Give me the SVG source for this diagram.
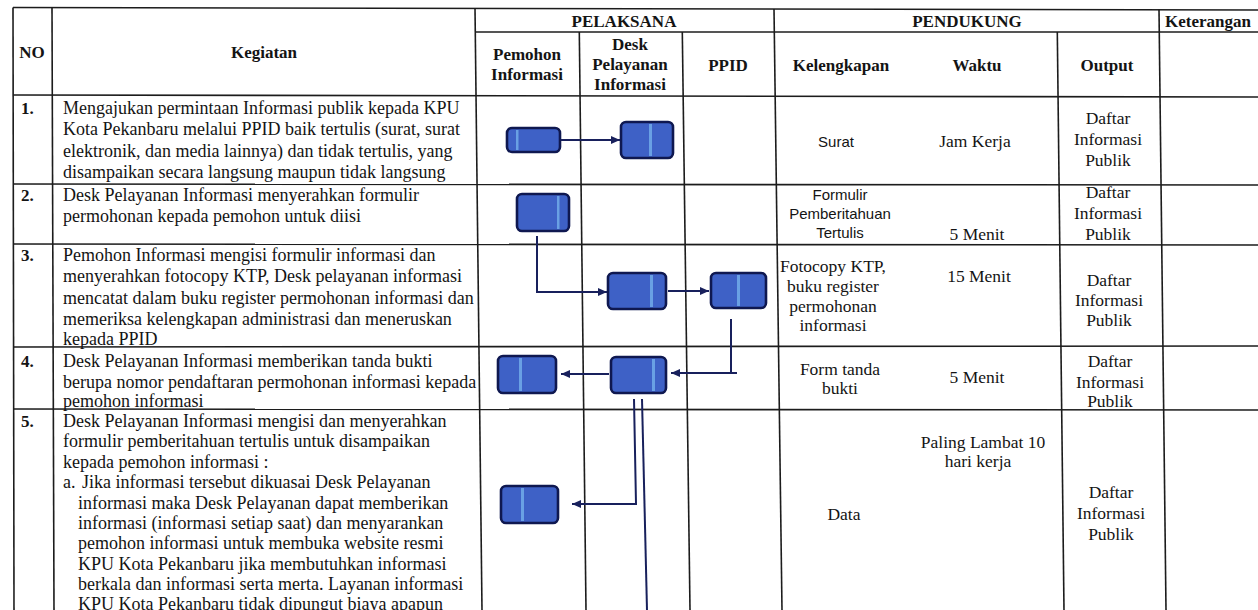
<svg xmlns="http://www.w3.org/2000/svg" width="1258" height="610" viewBox="0 0 1258 610">
<style>
.grid{stroke:#1c1c1c;stroke-width:1.6;fill:none}
.hd{font-family:"Liberation Serif","Times New Roman",serif;font-weight:bold;font-size:17px;fill:#141414}
.tx{font-family:"Liberation Serif","Times New Roman",serif;font-size:18px;fill:#141414}
.sm{font-family:"Liberation Serif","Times New Roman",serif;font-size:17.5px;fill:#141414;text-anchor:middle}
.sans{font-family:"Liberation Sans",Arial,sans-serif;font-size:15px;fill:#141414;text-anchor:middle}
.mid{text-anchor:middle}
.box{fill:#3e61c6;stroke:#0f1850;stroke-width:2.6}
.stripe{fill:#78b6ee;opacity:0.75}
.conn{stroke:#18205c;stroke-width:2;fill:none}
</style>
<defs>
<marker id="arr" markerUnits="userSpaceOnUse" markerWidth="9" markerHeight="8" refX="9" refY="4" orient="auto">
<path d="M0,0 L9,4 L0,8 z" fill="#18205c"/>
</marker>
</defs>
<rect width="1258" height="610" fill="#ffffff"/>
<g id="table" class="grid">
<line x1="13" y1="7.5" x2="1258" y2="10"/>
<line x1="475" y1="32" x2="1258" y2="32"/>
<line x1="13" y1="95" x2="1258" y2="97"/>
<line x1="13" y1="184" x2="1258" y2="185"/>
<line x1="13" y1="244" x2="1258" y2="245"/>
<line x1="13" y1="347" x2="1258" y2="346"/>
<line x1="13" y1="409" x2="1258" y2="410"/>
<line x1="13" y1="7.5" x2="14" y2="610"/>
<line x1="52" y1="7.5" x2="54" y2="610"/>
<line x1="475" y1="8" x2="482" y2="610"/>
<line x1="579.3" y1="32" x2="586" y2="610"/>
<line x1="682.3" y1="32" x2="690" y2="610"/>
<line x1="774" y1="9" x2="782" y2="610"/>
<line x1="1057.3" y1="32" x2="1064" y2="610"/>
<line x1="1159" y1="9.5" x2="1166" y2="610"/>
</g>
<g id="header">
<text class="hd mid" x="32" y="58">NO</text>
<text class="hd mid" x="264" y="58">Kegiatan</text>
<text class="hd mid" x="624" y="27">PELAKSANA</text>
<text class="hd mid" x="967" y="27">PENDUKUNG</text>
<text class="hd mid" x="1208" y="27">Keterangan</text>
<text class="hd mid" x="527" y="60">Pemohon</text>
<text class="hd mid" x="527" y="80">Informasi</text>
<text class="hd mid" x="630" y="50">Desk</text>
<text class="hd mid" x="630" y="70">Pelayanan</text>
<text class="hd mid" x="630" y="90">Informasi</text>
<text class="hd mid" x="728" y="71">PPID</text>
<text class="hd mid" x="841" y="71">Kelengkapan</text>
<text class="hd mid" x="977" y="71">Waktu</text>
<text class="hd mid" x="1107" y="71">Output</text>
</g>
<g id="row1">
<text class="hd" x="21" y="113.5">1.</text>
<text class="tx" x="63" y="113.5">Mengajukan permintaan Informasi publik kepada KPU</text>
<text class="tx" x="63" y="135">Kota Pekanbaru melalui PPID baik tertulis (surat, surat</text>
<text class="tx" x="63" y="156.5">elektronik, dan media lainnya) dan tidak tertulis, yang</text>
<text class="tx" x="63" y="178">disampaikan secara langsung maupun tidak langsung</text>
<text class="sans" x="836" y="147">Surat</text>
<text class="sm" x="975" y="147">Jam Kerja</text>
<text class="sm" x="1108" y="124">Daftar</text>
<text class="sm" x="1108" y="145">Informasi</text>
<text class="sm" x="1108" y="166">Publik</text>
</g>
<g id="row2">
<text class="hd" x="21" y="201">2.</text>
<text class="tx" x="63" y="201">Desk Pelayanan Informasi menyerahkan formulir</text>
<text class="tx" x="63" y="222">permohonan kepada pemohon untuk diisi</text>
<text class="sans" x="840" y="200">Formulir</text>
<text class="sans" x="840" y="219">Pemberitahuan</text>
<text class="sans" x="840" y="238">Tertulis</text>
<text class="sm" x="977" y="240">5 Menit</text>
<text class="sm" x="1108" y="198">Daftar</text>
<text class="sm" x="1108" y="219">Informasi</text>
<text class="sm" x="1108" y="240">Publik</text>
</g>
<g id="row3">
<text class="hd" x="21" y="261">3.</text>
<text class="tx" x="63" y="261">Pemohon Informasi mengisi formulir informasi dan</text>
<text class="tx" x="63" y="282.3">menyerahkan fotocopy KTP, Desk pelayanan informasi</text>
<text class="tx" x="63" y="303.6">mencatat dalam buku register permohonan informasi dan</text>
<text class="tx" x="63" y="325">memeriksa kelengkapan administrasi dan meneruskan</text>
<text class="tx" x="63" y="345">kepada PPID</text>
<text class="sm" x="833" y="272">Fotocopy KTP,</text>
<text class="sm" x="833" y="292">buku register</text>
<text class="sm" x="833" y="312">permohonan</text>
<text class="sm" x="833" y="331">informasi</text>
<text class="sm" x="979" y="282">15 Menit</text>
<text class="sm" x="1109" y="286">Daftar</text>
<text class="sm" x="1109" y="306">Informasi</text>
<text class="sm" x="1109" y="326">Publik</text>
</g>
<g id="row4">
<text class="hd" x="21" y="367">4.</text>
<text class="tx" x="63" y="367">Desk Pelayanan Informasi memberikan tanda bukti</text>
<text class="tx" x="63" y="387.5">berupa nomor pendaftaran permohonan informasi kepada</text>
<text class="tx" x="63" y="407">pemohon informasi</text>
<text class="sm" x="840" y="375">Form tanda</text>
<text class="sm" x="840" y="394">bukti</text>
<text class="sm" x="977" y="383">5 Menit</text>
<text class="sm" x="1110" y="367">Daftar</text>
<text class="sm" x="1110" y="388">Informasi</text>
<text class="sm" x="1110" y="407">Publik</text>
</g>
<g id="row5">
<text class="hd" x="21" y="427">5.</text>
<text class="tx" x="63" y="427">Desk Pelayanan Informasi mengisi dan menyerahkan</text>
<text class="tx" x="63" y="447.4">formulir pemberitahuan tertulis untuk disampaikan</text>
<text class="tx" x="63" y="467.8">kepada pemohon informasi :</text>
<text class="tx" x="63" y="488.2">a.</text>
<text class="tx" x="82" y="488.2">Jika informasi tersebut dikuasai Desk Pelayanan</text>
<text class="tx" x="78" y="508.6">informasi maka Desk Pelayanan dapat memberikan</text>
<text class="tx" x="78" y="529">informasi (informasi setiap saat) dan menyarankan</text>
<text class="tx" x="78" y="549.4">pemohon informasi untuk membuka website resmi</text>
<text class="tx" x="78" y="569.8">KPU Kota Pekanbaru jika membutuhkan informasi</text>
<text class="tx" x="78" y="590.2">berkala dan informasi serta merta. Layanan informasi</text>
<text class="tx" x="78" y="610">KPU Kota Pekanbaru tidak dipungut biaya apapun</text>
<text class="sm" x="983" y="448">Paling Lambat 10</text>
<text class="sm" x="978" y="467">hari kerja</text>
<text class="sm" x="844" y="520">Data</text>
<text class="sm" x="1111" y="498">Daftar</text>
<text class="sm" x="1111" y="519">Informasi</text>
<text class="sm" x="1111" y="540">Publik</text>
</g>
<g id="node-r1-pemohon"><rect class="box" x="507" y="128" width="53" height="24" rx="5"/><rect class="stripe" x="516" y="130" width="2.5" height="20"/></g>
<g id="node-r1-desk"><rect class="box" x="621" y="122" width="52" height="36" rx="5"/><rect class="stripe" x="649" y="124" width="3" height="32"/></g>
<g id="node-r2-pemohon"><rect class="box" x="517" y="194" width="52" height="37" rx="5"/><rect class="stripe" x="557" y="196" width="2.5" height="33"/></g>
<g id="node-r3-desk"><rect class="box" x="608" y="273" width="58" height="36" rx="5"/><rect class="stripe" x="650" y="275" width="3" height="32"/></g>
<g id="node-r3-ppid"><rect class="box" x="711" y="273" width="55" height="35" rx="5"/><rect class="stripe" x="737" y="275" width="3" height="31"/></g>
<g id="node-r4-pemohon"><rect class="box" x="498" y="356" width="58" height="37" rx="5"/><rect class="stripe" x="519" y="358" width="3" height="33"/></g>
<g id="node-r4-desk"><rect class="box" x="611" y="357" width="55" height="36" rx="5"/><rect class="stripe" x="652" y="359" width="3" height="32"/></g>
<g id="node-r5-pemohon"><rect class="box" x="501" y="486" width="57" height="37" rx="5"/><rect class="stripe" x="521" y="488" width="3" height="33"/></g>
<g id="connectors" class="conn">
<path d="M561,140 H620" marker-end="url(#arr)"/>
<path d="M537,236 V292 H607" marker-end="url(#arr)"/>
<path d="M668,291 H709" marker-end="url(#arr)"/>
<path d="M731,319 V373"/>
<path d="M737,373 H671" marker-end="url(#arr)"/>
<path d="M609,374 H561" marker-end="url(#arr)"/>
<path d="M634,399 L636,504 H572" marker-end="url(#arr)"/>
<path d="M642,399 L647,610"/>
</g>
</svg>
